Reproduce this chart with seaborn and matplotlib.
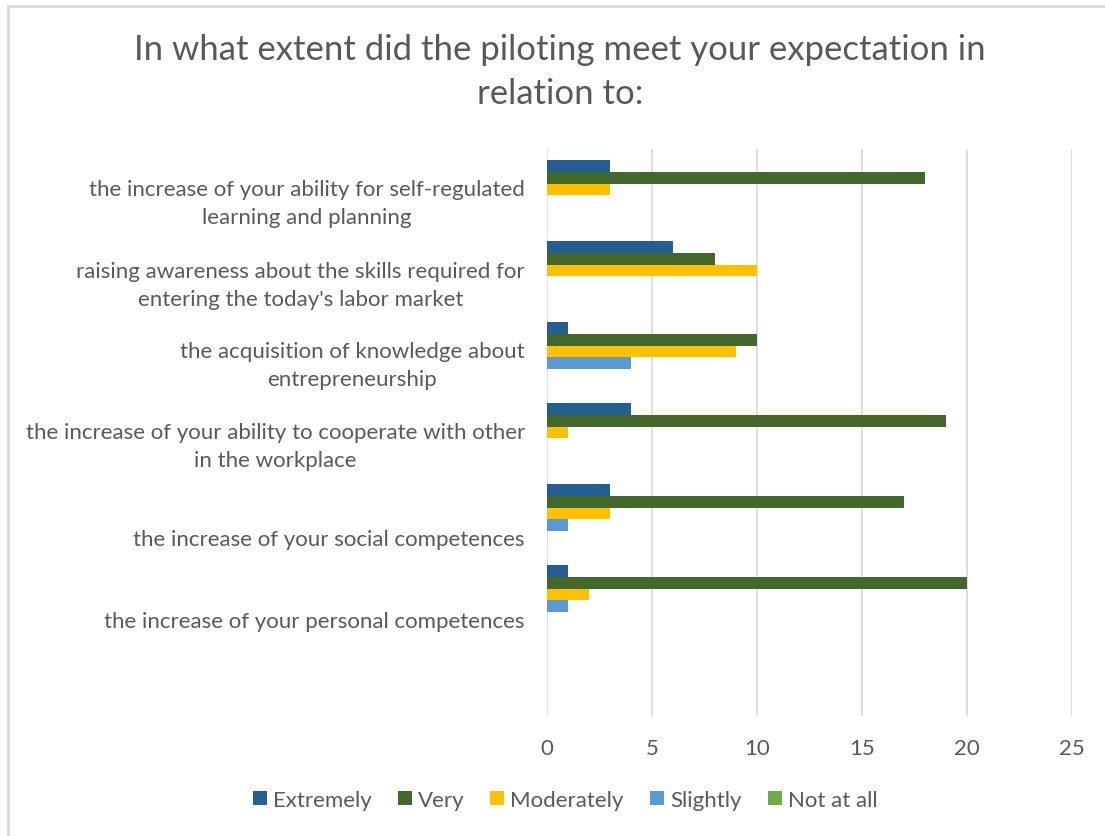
import matplotlib
matplotlib.use("Agg")
import matplotlib.pyplot as plt
import matplotlib.transforms as mtransforms
from matplotlib.patches import Rectangle
import seaborn as sns
import pandas as pd

# Survey items (as wrapped on the axis) and response counts per answer level
categories = [
    "the increase of your ability for self-regulated\nlearning and planning",
    "raising awareness about the skills required for\nentering the today's labor market",
    "the acquisition of knowledge about\nentrepreneurship",
    "the increase of your ability to cooperate with other\nin the workplace",
    "the increase of your social competences",
    "the increase of your personal competences",
]
series = ["Extremely", "Very", "Moderately", "Slightly", "Not at all"]
extremely = [3, 6, 1, 4, 3, 1]
very = [18, 8, 10, 19, 17, 20]
moderately = [3, 10, 9, 1, 3, 2]
slightly = [0, 0, 4, 0, 1, 1]
not_at_all = [0, 0, 0, 0, 0, 0]
x_ticks = [0, 5, 10, 15, 20, 25]
title = "In what extent did the piloting meet your expectation in\nrelation to:"

colors = ["#255E91", "#43682B", "#FFC000", "#5B9BD5", "#70AD47"]
text_color = "#595959"
grid_color = "#D9D9D9"

rows = []
for name, vals in zip(series, [extremely, very, moderately, slightly, not_at_all]):
    for cat, v in zip(categories, vals):
        rows.append({"item": cat, "level": name, "count": v})
df = pd.DataFrame(rows)

sns.set_theme(style="white")
plt.rcParams["font.family"] = ["Lato", "DejaVu Sans"]

fig = plt.figure(figsize=(11.05, 8.37), dpi=100)
ax = fig.add_axes([547 / 1105, 1 - 717 / 837, (1072 - 547) / 1105, (717 - 150) / 837])

# an extra blank slot at the bottom of the category axis
order = categories + [" "]
sns.barplot(data=df, y="item", x="count", hue="level", order=order,
            hue_order=series, palette=colors, orient="h", width=0.74,
            linewidth=0, saturation=1, ax=ax, legend=True)

ax.set_xlim(0, 25)
ax.set_ylim(6.5, -0.5)
ax.set_xticks(x_ticks)
ax.set_xticklabels([str(t) for t in x_ticks])
ax.set_xlabel("")
ax.set_ylabel("")
for s in ax.spines.values():
    s.set_visible(False)
ax.grid(False)
for t in x_ticks:
    ax.axvline(t, color=grid_color, lw=1.2, zorder=0)

ax.tick_params(axis="x", length=0, pad=15.5, labelsize=16, labelcolor=text_color)
ax.tick_params(axis="y", length=0, pad=16, labelsize=16, labelcolor=text_color)
for lbl in ax.get_yticklabels():
    lbl.set_multialignment("center")
    lbl.set_linespacing(1.5)
    n_lines = lbl.get_text().count("\n") + 1
    dy = -8 if n_lines > 1 else -24
    lbl.set_transform(lbl.get_transform() +
                      mtransforms.ScaledTranslation(0, dy / 100, fig.dpi_scale_trans))

handles, labels = ax.get_legend_handles_labels()
ax.get_legend().remove()
fig.legend(handles, labels, loc="center", bbox_to_anchor=(565 / 1105, 1 - 801 / 837),
           ncol=5, frameon=False, fontsize=16, labelcolor=text_color,
           handlelength=0.63, handleheight=0.63, handletextpad=0.27,
           columnspacing=1.18)

fig.text(560 / 1105, 1 - 72 / 837, title, ha="center", va="center",
         fontsize=25, color=text_color, linespacing=1.5)

# chart-area border
fig.add_artist(Rectangle((7.5 / 1105, -0.05), 1.2, 1.05 - 6.5 / 837,
                         transform=fig.transFigure, fill=False,
                         edgecolor=grid_color, lw=2))

fig.savefig("out.png", dpi=100, facecolor="white")
